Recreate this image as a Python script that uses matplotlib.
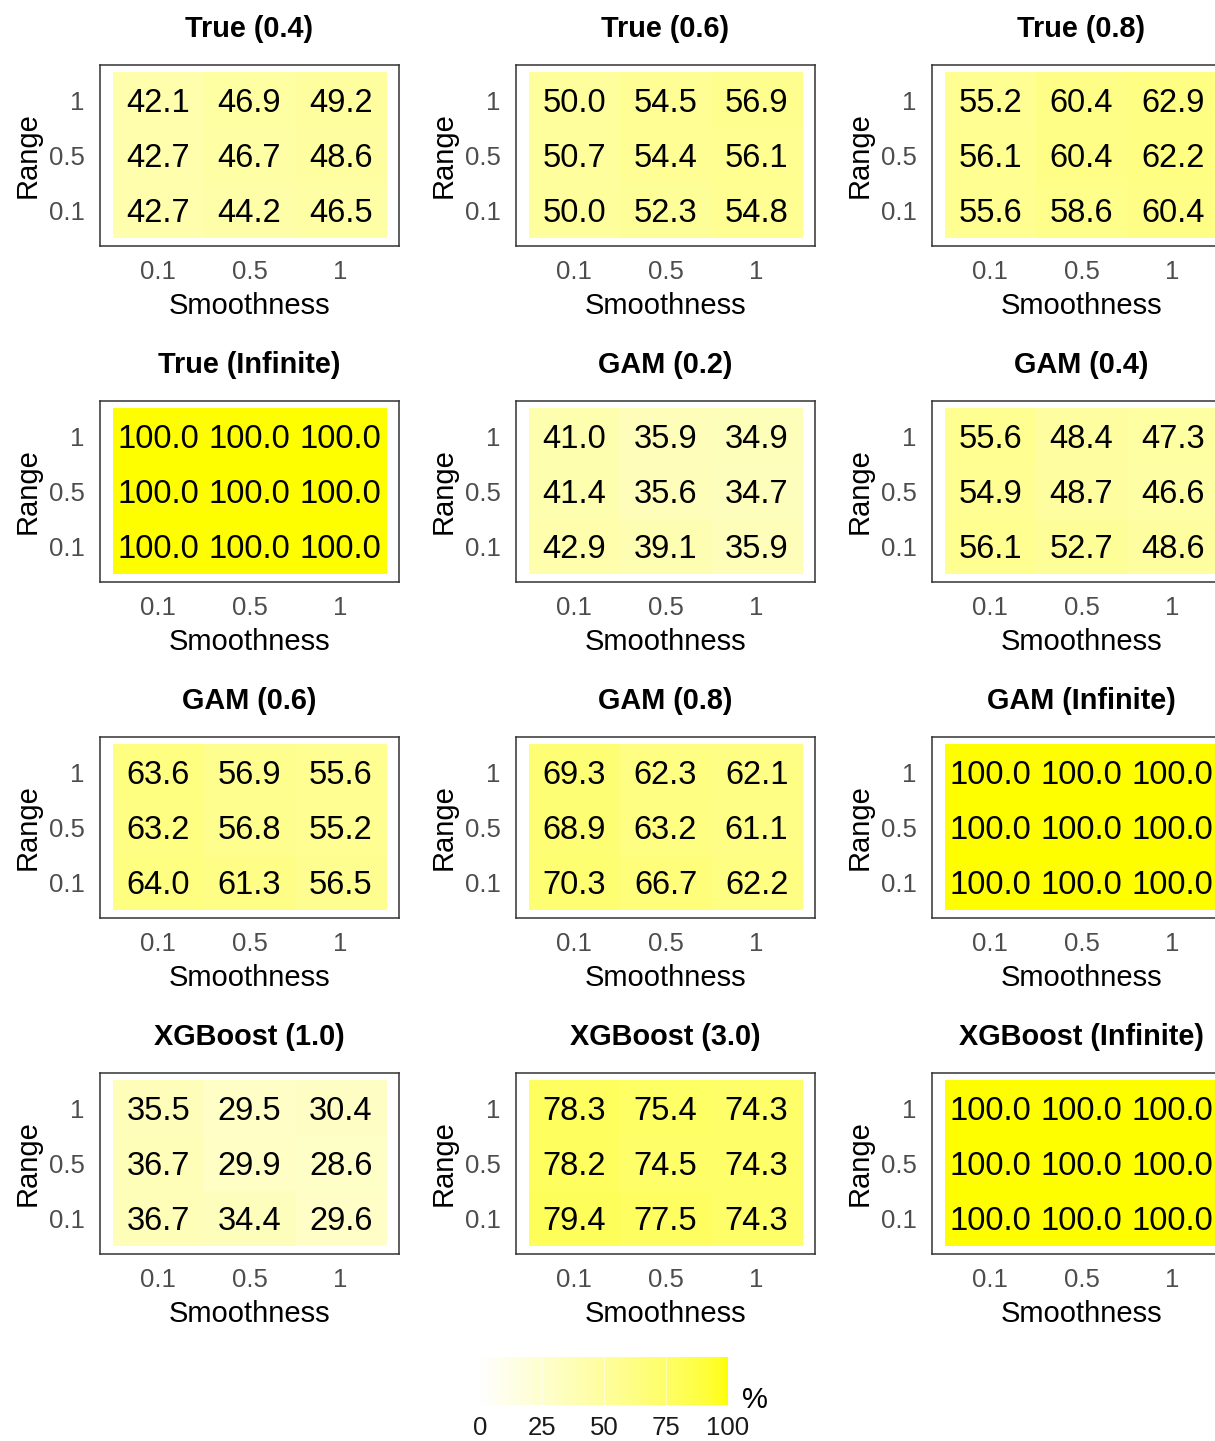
import numpy as np
import matplotlib
matplotlib.use("Agg")
import matplotlib.pyplot as plt
from matplotlib.colors import ListedColormap

plt.rcParams['font.family'] = ['Liberation Sans', 'DejaVu Sans']

# panel titles, laid out row by row
titles = ["True (0.4)", "True (0.6)", "True (0.8)",
          "True (Infinite)", "GAM (0.2)", "GAM (0.4)",
          "GAM (0.6)", "GAM (0.8)", "GAM (Infinite)",
          "XGBoost (1.0)", "XGBoost (3.0)", "XGBoost (Infinite)"]

smooth_labels = ["0.1", "0.5", "1"]
range_labels = ["0.1", "0.5", "1"]

# each grid: rows are Range = 1, 0.5, 0.1 (top to bottom), cols Smoothness 0.1, 0.5, 1
true_04 = [[42.1, 46.9, 49.2], [42.7, 46.7, 48.6], [42.7, 44.2, 46.5]]
true_06 = [[50.0, 54.5, 56.9], [50.7, 54.4, 56.1], [50.0, 52.3, 54.8]]
true_08 = [[55.2, 60.4, 62.9], [56.1, 60.4, 62.2], [55.6, 58.6, 60.4]]
true_inf = [[100.0, 100.0, 100.0], [100.0, 100.0, 100.0], [100.0, 100.0, 100.0]]
gam_02 = [[41.0, 35.9, 34.9], [41.4, 35.6, 34.7], [42.9, 39.1, 35.9]]
gam_04 = [[55.6, 48.4, 47.3], [54.9, 48.7, 46.6], [56.1, 52.7, 48.6]]
gam_06 = [[63.6, 56.9, 55.6], [63.2, 56.8, 55.2], [64.0, 61.3, 56.5]]
gam_08 = [[69.3, 62.3, 62.1], [68.9, 63.2, 61.1], [70.3, 66.7, 62.2]]
gam_inf = [[100.0, 100.0, 100.0], [100.0, 100.0, 100.0], [100.0, 100.0, 100.0]]
xgb_10 = [[35.5, 29.5, 30.4], [36.7, 29.9, 28.6], [36.7, 34.4, 29.6]]
xgb_30 = [[78.3, 75.4, 74.3], [78.2, 74.5, 74.3], [79.4, 77.5, 74.3]]
xgb_inf = [[100.0, 100.0, 100.0], [100.0, 100.0, 100.0], [100.0, 100.0, 100.0]]

grids = [true_04, true_06, true_08, true_inf, gam_02, gam_04,
         gam_06, gam_08, gam_inf, xgb_10, xgb_30, xgb_inf]

legend_ticks = [0, 25, 50, 75, 100]


# white -> yellow gradient interpolated in CIELAB
def lab_to_rgb(L, a, b):
    fy = (L + 16) / 116
    fx = fy + a / 500
    fz = fy - b / 200
    finv = lambda t: np.where(t ** 3 > 0.008856, t ** 3, (t - 16 / 116) / 7.787)
    X, Y, Z = 0.95047 * finv(fx), 1.0 * finv(fy), 1.08883 * finv(fz)
    r = 3.2406 * X - 1.5372 * Y - 0.4986 * Z
    g = -0.9689 * X + 1.8758 * Y + 0.0415 * Z
    bb = 0.0557 * X - 0.2040 * Y + 1.0570 * Z
    rgb = np.clip(np.stack([r, g, bb], -1), 0, 1)
    return np.where(rgb > 0.0031308, 1.055 * rgb ** (1 / 2.4) - 0.055, 12.92 * rgb)


t = np.linspace(0, 1, 256)[:, None]
lab_w = np.array([100.0, 0.0, 0.0])
lab_y = np.array([97.14, -21.55, 94.48])
lab = lab_w + t * (lab_y - lab_w)
cmap = ListedColormap(np.clip(lab_to_rgb(lab[:, 0], lab[:, 1], lab[:, 2]), 0, 1))

W, H = 1215, 1441
fig = plt.figure(figsize=(W / 100, H / 100), dpi=100)


def px_axes(x, y, w, h):
    return fig.add_axes([x / W, 1 - (y + h) / H, w / W, h / H])


box_w, box_h = 299, 181
x0, y0 = 100, 65
dx, dy = 416, 336
pad = 0.14
cell_fs = 23.5

for k, (title, grid) in enumerate(zip(titles, grids)):
    r, c = divmod(k, 3)
    ax = px_axes(x0 + c * dx, y0 + r * dy, box_w, box_h)
    z = np.array(grid)[::-1]  # bottom row = Range 0.1
    ax.imshow(z, cmap=cmap, vmin=0, vmax=100, origin="lower",
              extent=(-0.5, 2.5, -0.5, 2.5), aspect="auto",
              interpolation="nearest")
    for i in range(3):
        for j in range(3):
            ax.annotate(f"{z[i, j]:.1f}", (j, i), xytext=(0, -0.358 * cell_fs),
                        textcoords="offset points", ha="center", va="baseline",
                        fontsize=cell_fs, color="black")
    ax.set_xlim(-0.5 - pad, 2.5 + pad)
    ax.set_ylim(-0.5 - pad, 2.5 + pad)
    ax.set_xticks(range(3))
    ax.set_xticklabels(smooth_labels)
    ax.set_yticks(range(3))
    ax.set_yticklabels(range_labels)
    ax.tick_params(length=0, labelsize=18.5, labelcolor="#4D4D4D")
    ax.tick_params(axis="x", pad=10)
    ax.tick_params(axis="y", pad=11)
    for s in ax.spines.values():
        s.set_color("#333333")
        s.set_linewidth(1.1)
    ax.set_xlabel("Smoothness", fontsize=21, labelpad=6)
    ax.set_ylabel("Range", fontsize=21, labelpad=5)
    ax.set_title(title, fontsize=20.8, fontweight="bold", pad=20)

# colour legend
cax = px_axes(480, 1357, 248, 48)
grad = np.linspace(0, 100, 256).reshape(1, -1)
cax.imshow(grad, cmap=cmap, vmin=0, vmax=100, aspect="auto",
           extent=(0, 100, 0, 1))
for tk in legend_ticks[1:-1]:
    cax.plot([tk, tk], [0, 1], color="white", lw=0.8, alpha=0.5)
cax.set_xlim(0, 100)
cax.set_ylim(0, 1)
cax.set_xticks(legend_ticks)
cax.set_xticklabels([str(v) for v in legend_ticks])
cax.set_yticks([])
cax.tick_params(length=0, labelsize=18.5, pad=8, labelcolor="#1A1A1A")
for s in cax.spines.values():
    s.set_visible(False)
fig.text(755 / W, 1 - 1400 / H, "%", fontsize=21, ha="center", va="center")

fig.savefig("out.png", dpi=100)
